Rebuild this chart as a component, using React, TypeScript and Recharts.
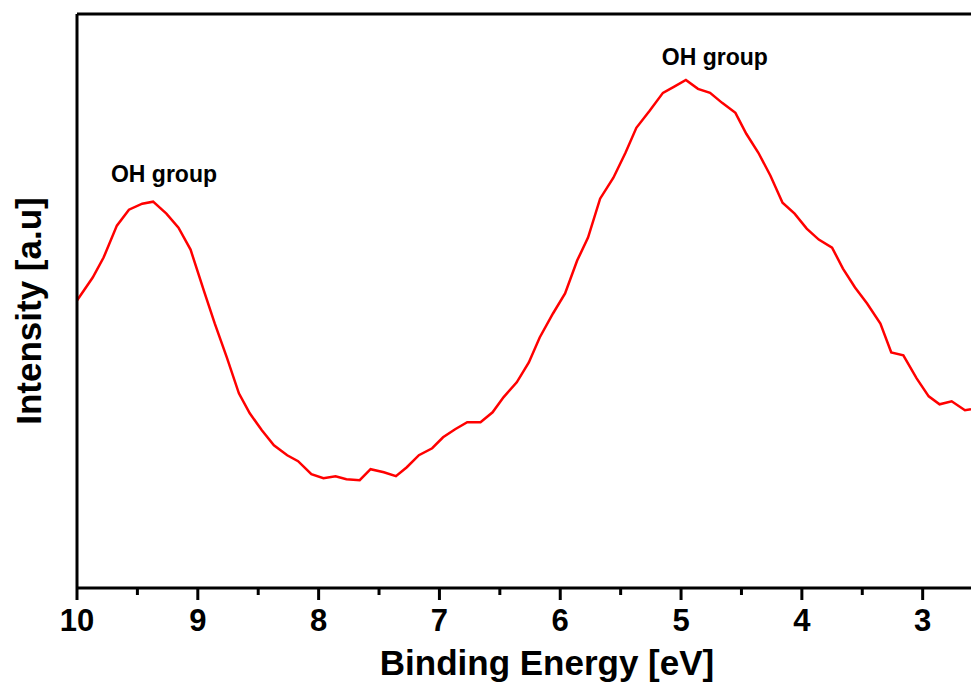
import { LineChart, Line, XAxis, YAxis, ReferenceLine, ReferenceDot, Label } from 'recharts';

const energy = [
  10.0, 9.87, 9.78, 9.67, 9.57, 9.46, 9.37, 9.26, 9.16, 9.06,
  8.95, 8.86, 8.76, 8.66, 8.57, 8.47, 8.37, 8.26, 8.17, 8.06,
  7.96, 7.86, 7.77, 7.66, 7.57, 7.46, 7.36, 7.27, 7.17, 7.06,
  6.97, 6.87, 6.77, 6.66, 6.56, 6.47, 6.36, 6.26, 6.17, 6.06,
  5.96, 5.86, 5.77, 5.67, 5.56, 5.46, 5.37, 5.26, 5.15, 5.06,
  4.96, 4.86, 4.76, 4.66, 4.55, 4.46, 4.36, 4.26, 4.16, 4.06,
  3.96, 3.86, 3.75, 3.66, 3.56, 3.46, 3.35, 3.26, 3.16, 3.05,
  2.95, 2.86, 2.76, 2.65, 2.6,
];

const intensity = [
  288, 311, 331, 363, 379, 385, 387, 375, 361, 339,
  298, 265, 231, 195, 175, 158, 143, 133, 127, 114,
  110, 112, 109, 108, 119, 116, 112, 121, 133, 140,
  151, 159, 166, 166, 176, 191, 206, 226, 251, 275,
  295, 328, 351, 390, 411, 436, 461, 478, 496, 502,
  509, 500, 496, 486, 476, 455, 436, 413, 386, 375,
  360, 349, 341, 320, 301, 285, 265, 236, 233, 210,
  192, 184, 187, 178, 179,
];

const xTicks = [10, 9.5, 9, 8.5, 8, 7.5, 7, 6.5, 6, 5.5, 5, 4.5, 4, 3.5, 3];

const peakLabels = [
  { text: 'OH group', x: 9.28, y: 407 },
  { text: 'OH group', x: 4.72, y: 524 },
];

const FONT = '"Liberation Sans", Arial, sans-serif';

const data = energy.map((e, i) => ({ energy: e, intensity: intensity[i] }));

const XTick = (props: any) => {
  const { x, y, payload } = props;
  const axisY = y - 12;
  const major = Number.isInteger(payload.value);
  return (
    <g>
      <line x1={x} x2={x} y1={axisY} y2={axisY + (major ? 12 : 7)} stroke="#000" strokeWidth={3} />
      {major && (
        <text x={x} y={axisY + 43} textAnchor="middle" fontFamily={FONT} fontWeight="bold" fontSize={31} fill="#000">
          {payload.value}
        </text>
      )}
    </g>
  );
};

export default function App() {
  return (
    <div style={{ position: 'absolute', left: 0, top: 0, background: '#fff' }}>
      <LineChart width={971} height={684} data={data} margin={{ top: 14, right: 0, bottom: 0, left: 0 }}>
        <XAxis
          dataKey="energy"
          type="number"
          domain={[2.6, 10]}
          reversed
          allowDataOverflow
          ticks={xTicks}
          interval={0}
          height={96}
          tickSize={12}
          tickMargin={0}
          tickLine={false}
          tick={<XTick />}
          axisLine={{ stroke: '#000', strokeWidth: 3 }}
        >
          <Label
            content={() => (
              <text x={547} y={675} textAnchor="middle" fontFamily={FONT} fontWeight="bold" fontSize={35} fill="#000">
                Binding Energy [eV]
              </text>
            )}
          />
        </XAxis>
        <YAxis
          type="number"
          domain={[0, 575]}
          width={77}
          tick={false}
          tickLine={false}
          axisLine={{ stroke: '#000', strokeWidth: 3 }}
        >
          <Label
            content={() => (
              <text
                x={41}
                y={311}
                transform="rotate(-90 41 311)"
                textAnchor="middle"
                fontFamily={FONT}
                fontWeight="bold"
                fontSize={35}
                fill="#000"
              >
                Intensity [a.u]
              </text>
            )}
          />
        </YAxis>
        <ReferenceLine y={575} stroke="#000" strokeWidth={3} ifOverflow="visible" />
        <Line
          type="linear"
          dataKey="intensity"
          stroke="#ff0000"
          strokeWidth={2.5}
          dot={false}
          isAnimationActive={false}
        />
        {peakLabels.map((p, i) => (
          <ReferenceDot
            key={i}
            x={p.x}
            y={p.y}
            r={0}
            fill="none"
            stroke="none"
            ifOverflow="visible"
            label={{
              content: (lp: any) => (
                <text
                  x={lp.viewBox.x + (lp.viewBox.width || 0) / 2}
                  y={lp.viewBox.y + (lp.viewBox.height || 0) / 2}
                  textAnchor="middle"
                  fontFamily={FONT}
                  fontWeight="bold"
                  fontSize={23}
                  fill="#000"
                >
                  {p.text}
                </text>
              ),
            }}
          />
        ))}
      </LineChart>
    </div>
  );
}
